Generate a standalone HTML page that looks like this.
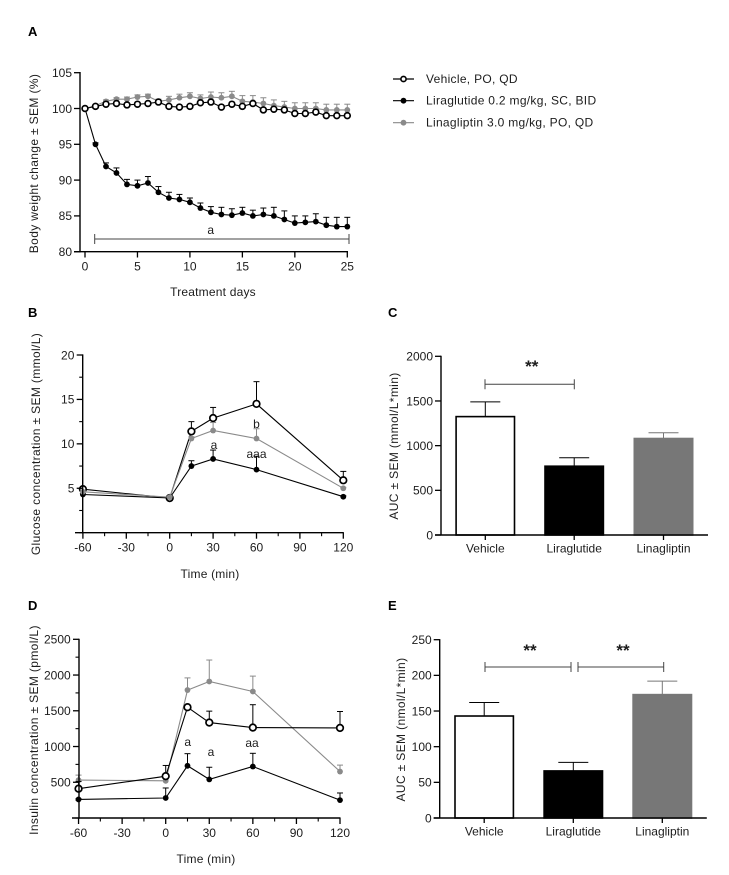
<!DOCTYPE html>
<html lang="en">
<head>
<meta charset="utf-8">
<title>Body weight, glucose and insulin panels</title>
<style>
html,body{margin:0;padding:0;background:#fff;}
svg{display:block;filter:blur(0.3px);}
text{font-family:"Liberation Sans",sans-serif;font-size:12px;fill:#1c1c1c;}
.letter{font-weight:bold;font-size:13px;fill:#000;}
.ytitle{letter-spacing:0.36px;}
.xtitle{letter-spacing:0.2px;}
.legtext{letter-spacing:0.3px;}
</style>
</head>
<body>
<svg id="fig" xmlns="http://www.w3.org/2000/svg" width="729" height="875" viewBox="0 0 729 875"></svg>
<script>
// Panel A
const aDays = [0,1,2,3,4,5,6,7,8,9,10,11,12,13,14,15,16,17,18,19,20,21,22,23,24,25];
const aVehicle = [100,100.3,100.6,100.7,100.5,100.6,100.7,100.9,100.3,100.2,100.3,100.8,100.9,100.2,100.6,100.3,100.7,99.8,99.9,99.8,99.3,99.3,99.5,99,99,99];
const aVehicleSem = [0,0,0,0,0,0,0,0,0,0,0,0,0,0,0,0,0,0,0,0,0,0,0,0,0,0];
const aLira = [100,95,91.9,91,89.4,89.2,89.6,88.3,87.5,87.3,86.9,86.1,85.5,85.2,85.1,85.4,85,85.2,85,84.5,84,84.1,84.2,83.7,83.5,83.5];
const aLiraSem = [0,0.2,0.5,0.7,0.7,0.8,0.9,0.8,0.8,0.7,0.6,0.7,0.8,1,0.9,0.8,0.8,0.9,1.2,1.2,1,0.9,1.1,1.1,1.3,1.3];
const aLina = [100,100.4,101,101.3,101.3,101.6,101.7,101,101.2,101.5,101.7,101.4,101.6,101.5,101.7,101,100.9,100.7,100.4,100.2,100,100,100,99.8,99.8,99.8];
const aLinaSem = [0,0.1,0.2,0.2,0.3,0.3,0.3,0.3,0.5,0.5,0.5,0.5,0.7,0.7,0.7,0.8,0.9,0.8,0.8,0.8,0.8,0.8,0.8,0.8,0.8,0.8];
const aXTicks = [0,5,10,15,20,25];
const aYTicks = [80,85,90,95,100,105];

// Panels B and D share the time points
const times = [-60,0,15,30,60,120];
const timeTicks = [-60,-30,0,30,60,90,120];
const timeMinor = [-45,-15,15,45,75,105];

const bVehicle = [4.9,3.9,11.4,12.9,14.5,5.9];
const bVehicleSem = [0.1,0.1,1.1,1.2,2.5,1.0];
const bLira = [4.3,3.9,7.5,8.3,7.1,4.05];
const bLiraSem = [0.1,0.1,0.6,1,1.5,0.1];
const bLina = [4.6,4.0,10.6,11.5,10.6,5.0];
const bLinaSem = [0.1,0.1,0.2,0.9,1.1,0.1];
const bYTicks = [5,10,15,20];
const bYMinor = [0,2.5,7.5,12.5,17.5];

const dVehicle = [410,585,1550,1335,1265,1260];
const dVehicleSem = [100,150,0,160,320,230];
const dLira = [260,280,730,540,720,250];
const dLiraSem = [10,140,170,170,185,100];
const dLina = [530,520,1790,1910,1770,650];
const dLinaSem = [70,50,170,300,215,90];
const dYTicks = [500,1000,1500,2000,2500];
const dYMinor = [0,250,750,1250,1750,2250];

// Bar panels
const barGroups = ['Vehicle','Liraglutide','Linagliptin'];
const cValues = [1325,770,1080];
const cSem = [165,95,65];
const cYTicks = [0,500,1000,1500,2000];
const eValues = [143,66,173];
const eSem = [19,12,19];
const eYTicks = [0,50,100,150,200,250];

const BLACK = '#000', GREY = '#7a7a7a', LINE_GREY = '#8a8a8a';
const svg = document.getElementById('fig');
const NS = 'http://www.w3.org/2000/svg';

function linear(d0, d1, r0, r1) {
  return v => r0 + (v - d0) * (r1 - r0) / (d1 - d0);
}
function mk(tag, name, props, parent) {
  const node = document.createElementNS(NS, tag);
  
  
  for (const k in props) node.setAttribute(k, props[k]);
  (parent || svg).appendChild(node);
  return node;
}
function seg(name, x1, y1, x2, y2, color, w, parent) {
  return mk('line', name, {x1, y1, x2, y2, stroke: color, 'stroke-width': w}, parent);
}
function label(name, str, x, y, anchor, parent, cls) {
  const t = mk('text', name, {x, y, 'text-anchor': anchor || 'middle'}, parent);
  if (cls) t.setAttribute('class', cls);
  t.textContent = str;
  return t;
}
function vLabel(name, str, x, y, parent) {
  const t = mk('text', name, {x: 0, y: 0, 'text-anchor': 'middle', class: 'ytitle', transform: `translate(${x} ${y}) rotate(-90)`}, parent);
  t.textContent = str;
  return t;
}
function series(g, name, xs, ys, sem, X, Y, color, open, capW, r) {
  const s = mk('g', name + '-series', {}, g);
  xs.forEach((x, i) => {
    if (sem[i] > 0) {
      seg(name + '-error-stem', X(x), Y(ys[i]), X(x), Y(ys[i] + sem[i]), color, 1, s);
      seg(name + '-error-cap', X(x) - capW, Y(ys[i] + sem[i]), X(x) + capW, Y(ys[i] + sem[i]), color, 1, s);
    }
  });
  mk('polyline', name + '-line', {
    points: xs.map((x, i) => X(x).toFixed(1) + ',' + Y(ys[i]).toFixed(1)).join(' '),
    fill: 'none', stroke: color, 'stroke-width': 1.1
  }, s);
  xs.forEach((x, i) => {
    mk('circle', name + '-point', {
      cx: X(x), cy: Y(ys[i]), r: open ? r : r - 0.3,
      fill: open ? '#fff' : color, stroke: open ? color : 'none', 'stroke-width': open ? 1.7 : 0
    }, s);
  });
}
function bracket(g, name, x1, x2, y, capH) {
  const b = mk('g', name, {}, g);
  seg(name + '-bar', x1, y, x2, y, '#444', 1, b);
  seg(name + '-cap-left', x1, y - capH, x1, y + capH, '#444', 1, b);
  seg(name + '-cap-right', x2, y - capH, x2, y + capH, '#444', 1, b);
}

/* ----- Panel A ----- */
(function () {
  const g = mk('g', 'panel-a-body-weight', {});
  const X = linear(0, 25, 85, 347.3), Y = linear(80, 105, 251.7, 72.7);
  label('panel-a-letter', 'A', 28, 36, 'start', g, 'letter');
  series(g, 'linagliptin', aDays, aLina, aLinaSem, X, Y, LINE_GREY, false, 3, 3.2);
  series(g, 'liraglutide', aDays, aLira, aLiraSem, X, Y, BLACK, false, 3, 3.2);
  series(g, 'vehicle', aDays, aVehicle, aVehicleSem, X, Y, BLACK, true, 3, 2.9);
  seg('y-axis', 80, 72, 80, 252.4, BLACK, 1.4, g);
  seg('x-axis', 74, 251.7, 348, 251.7, BLACK, 1.4, g);
  aYTicks.forEach(v => {
    seg('y-tick', 74, Y(v), 80, Y(v), BLACK, 1.3, g);
    label('y-tick-label', v, 72, Y(v) + 4.3, 'end', g);
  });
  aXTicks.forEach(v => {
    seg('x-tick', X(v), 251.7, X(v), 257.5, BLACK, 1.3, g);
    label('x-tick-label', v, X(v), 270.5, 'middle', g);
  });
  bracket(g, 'significance-bracket', X(1) - 0.8, X(25) + 1.7, 239, 5);
  label('significance-a', 'a', 210.7, 234, 'middle', g);
  label('x-axis-title', 'Treatment days', 213, 296, 'middle', g, 'xtitle');
  vLabel('y-axis-title', 'Body weight change \u00B1 SEM (%)', 38, 163.5, g);
})();

/* ----- Legend ----- */
(function () {
  const g = mk('g', 'legend', {});
  const rows = [
    ['Vehicle, PO, QD', BLACK, true, 79],
    ['Liraglutide 0.2 mg/kg, SC, BID', BLACK, false, 100.7],
    ['Linagliptin 3.0 mg/kg, PO, QD', LINE_GREY, false, 122.7]
  ];
  rows.forEach(r => {
    const e = mk('g', 'legend-entry', {}, g);
    seg('legend-line', 393, r[3], 414, r[3], r[1], 1.2, e);
    mk('circle', 'legend-marker', {cx: 403.5, cy: r[3], r: r[2] ? 2.6 : 2.9,
      fill: r[2] ? '#fff' : r[1], stroke: r[2] ? r[1] : 'none', 'stroke-width': r[2] ? 1.6 : 0}, e);
    label('legend-label', r[0], 426, r[3] + 4, 'start', e, 'legtext');
  });
})();

/* ----- Time course panels ----- */
function timePanel(id, letter, letterY, xLeft, xZero, xRight, y0, yTop, yMax, axisLeft, yTicks, yMinor, drawOrder, titleX, titleY, title, xTitleX, xTitleY, notes) {
  const g = mk('g', id, {});
  const X = linear(0, 120, xZero, xRight), Y = linear(0, yMax, y0, yTop);
  label(id + '-letter', letter, 28, letterY, 'start', g, 'letter');
  drawOrder.forEach(s => series(g, s[0], times, s[1], s[2], X, Y, s[3], s[4], 3, s[4] ? 3.3 : 3.2));
  seg('y-axis', xLeft, yTop - 0.6, xLeft, y0 + 0.6, BLACK, 1.4, g);
  seg('x-axis', axisLeft, y0, xRight + 0.5, y0, BLACK, 1.4, g);
  yTicks.forEach(v => {
    seg('y-tick', xLeft - 6, Y(v), xLeft, Y(v), BLACK, 1.3, g);
    label('y-tick-label', v, xLeft - 8.3, Y(v) + 4.3, 'end', g);
  });
  yMinor.forEach(v => {
    seg('y-minor-tick', xLeft - 3.5, Y(v), xLeft, Y(v), BLACK, 1.1, g);
  });
  timeTicks.forEach(v => {
    seg('x-tick', X(v), y0, X(v), y0 + 6, BLACK, 1.3, g);
    label('x-tick-label', v, X(v), y0 + 19, 'middle', g);
  });
  timeMinor.forEach(v => {
    seg('x-minor-tick', X(v), y0, X(v), y0 + 3.5, BLACK, 1.1, g);
  });
  label('x-axis-title', 'Time (min)', xTitleX, xTitleY, 'middle', g, 'xtitle');
  vLabel('y-axis-title', title, titleX, titleY, g);
  notes.forEach(n => label('significance-' + n[0], n[0], n[1], n[2], 'middle', g));
}
timePanel('panel-b-glucose', 'B', 317, 82.7, 169.7, 343.3, 532.7, 355, 20, 75, bYTicks, bYMinor,
  [['liraglutide', bLira, bLiraSem, BLACK, false],
   ['vehicle', bVehicle, bVehicleSem, BLACK, true],
   ['linagliptin', bLina, bLinaSem, LINE_GREY, false]],
  40, 444, 'Glucose concentration \u00B1 SEM (mmol/L)', 210, 578,
  [['b', 256.5, 428], ['a', 214, 449], ['aaa', 256.5, 458]]);
timePanel('panel-d-insulin', 'D', 610, 79, 165.7, 340, 818, 639.3, 2500, 72, dYTicks, dYMinor,
  [['linagliptin', dLina, dLinaSem, LINE_GREY, false],
   ['liraglutide', dLira, dLiraSem, BLACK, false],
   ['vehicle', dVehicle, dVehicleSem, BLACK, true]],
  38, 730, 'Insulin concentration \u00B1 SEM (pmol/L)', 206, 863,
  [['a', 187.7, 746], ['a', 211, 756], ['aa', 252, 747]]);

/* ----- Bar panels ----- */
function barPanel(id, letter, letterY, xAxis, y0, yTop, yMax, centers, values, sem, ticks, titleX, titleY, title) {
  const g = mk('g', id, {});
  const Y = linear(0, yMax, y0, yTop);
  const fills = ['#fff', '#000', '#777'];
  const edges = ['#000', '#000', '#777'];
  label(id + '-letter', letter, 388, letterY, 'start', g, 'letter');
  barGroups.forEach((name, i) => {
    const c = centers[i], top = Y(values[i]), key = name.toLowerCase();
    seg(key + '-error-stem', c, top, c, Y(values[i] + sem[i]), edges[i], 1, g);
    seg(key + '-error-cap', c - 15, Y(values[i] + sem[i]), c + 15, Y(values[i] + sem[i]), edges[i], 1, g);
    mk('rect', 'bar-' + key, {x: c - 29.2, y: top, width: 58.4, height: y0 - top, fill: fills[i], stroke: edges[i], 'stroke-width': 1.6}, g);
    seg('x-tick', c, y0, c, y0 + 5, BLACK, 1.3, g);
    label('x-tick-label', name, c, y0 + 17.5, 'middle', g);
  });
  seg('y-axis', xAxis, yTop - 0.6, xAxis, y0, BLACK, 1.4, g);
  seg('x-axis', xAxis - 6, y0, centers[2] + 44.5, y0, BLACK, 1.4, g);
  ticks.forEach(v => {
    seg('y-tick', xAxis - 6, Y(v), xAxis, Y(v), BLACK, 1.3, g);
    label('y-tick-label', v, xAxis - 8, Y(v) + 4.3, 'end', g);
  });
  vLabel('y-axis-title', title, titleX, titleY, g);
  return g;
}
const gC = barPanel('panel-c-glucose-auc', 'C', 317, 441, 535, 356.3, 2000, [485.3, 574.2, 663.5], cValues, cSem, cYTicks, 398, 446, 'AUC \u00B1 SEM (mmol/L*min)');
bracket(gC, 'significance-bracket', 485, 574.3, 384.3, 5);
label('significance-stars', '**', 531.7, 372, 'middle', gC).setAttribute('style', 'font-size:17px;font-weight:bold');

const gE = barPanel('panel-e-insulin-auc', 'E', 610, 439.7, 818, 639.7, 250, [484.2, 573.3, 662.3], eValues, eSem, eYTicks, 405, 729.5, 'AUC \u00B1 SEM (nmol/L*min)');
bracket(gE, 'significance-bracket-left', 485, 571, 667, 5);
bracket(gE, 'significance-bracket-right', 578, 663.7, 667, 5);
label('significance-stars-left', '**', 530, 656, 'middle', gE).setAttribute('style', 'font-size:17px;font-weight:bold');
label('significance-stars-right', '**', 623, 656, 'middle', gE).setAttribute('style', 'font-size:17px;font-weight:bold');
</script>
</body>
</html>
